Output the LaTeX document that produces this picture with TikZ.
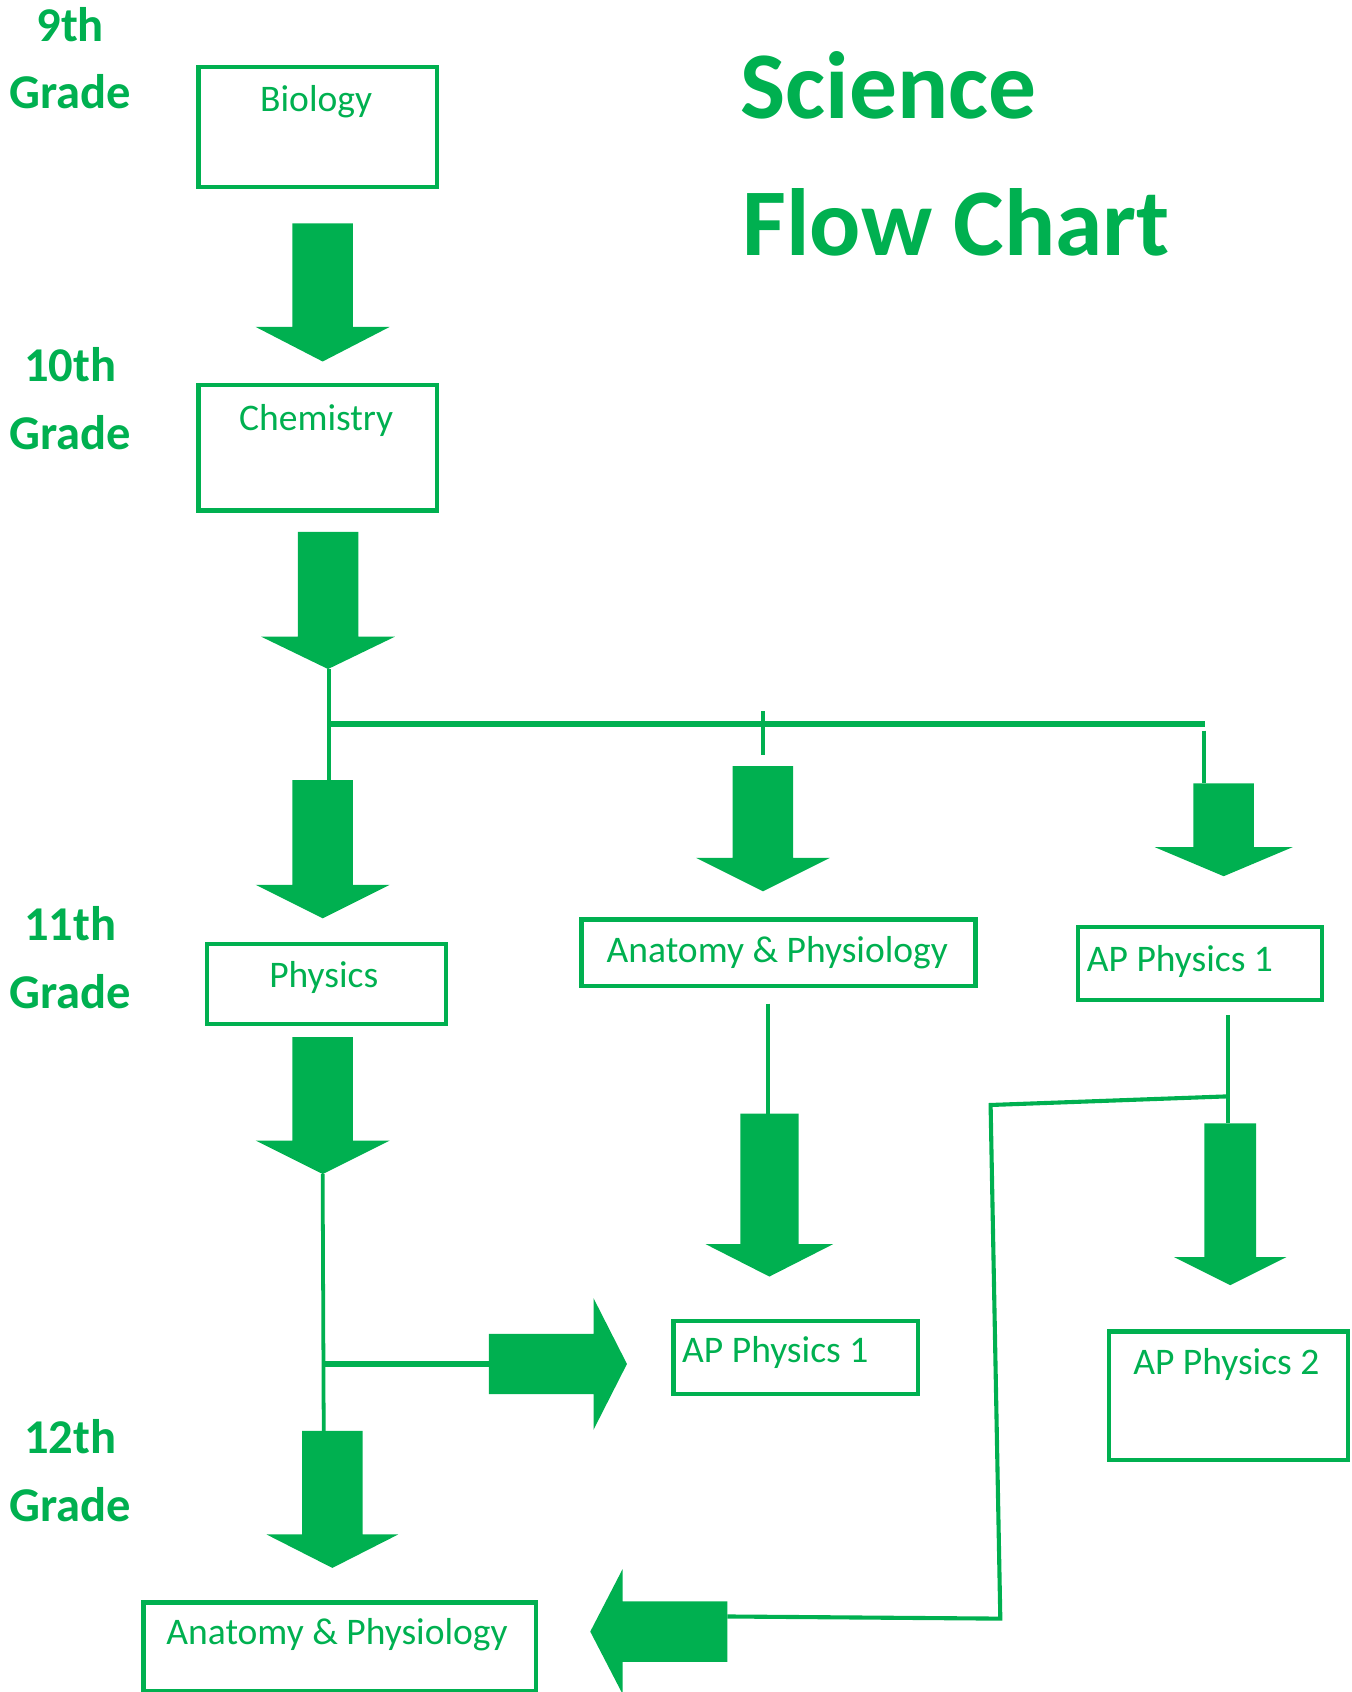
\documentclass[tikz,border=0pt]{standalone}
\usepackage{fontspec}
\setmainfont{Carlito}
\definecolor{grn}{HTML}{00B050}
\tikzset{
  box/.style={draw=grn, line width=4pt, rectangle, inner sep=0pt, anchor=north west},
  txt/.style={text=grn, font=\fontsize{34.8}{40}\selectfont, inner sep=0pt},
  grade/.style={text=grn, font=\bfseries\fontsize{45}{50}\selectfont, inner sep=0pt, anchor=base},
  ttl/.style={text=grn, font=\bfseries\fontsize{88.5}{100}\selectfont, inner sep=0pt, anchor=base west},
  conn/.style={draw=grn, line width=3.5pt},
  bar/.style={draw=grn, line width=5pt},
}
% vertical block arrow: x, shaft top, head base, tip, half shaft, half head
\newcommand\blkdn[6]{%
  \fill[grn] ({#1-#5},#2) -- ({#1+#5},#2) -- ({#1+#5},#3) -- ({#1+#6},#3) -- (#1,#4)
    -- ({#1-#6},#3) -- ({#1-#5},#3) -- cycle;}
% horizontal block arrow: y, shaft start, head base, tip, half shaft, half head
\newcommand\blkhz[6]{%
  \fill[grn] (#2,{#1-#5}) -- (#3,{#1-#5}) -- (#3,{#1-#6}) -- (#4,#1) -- (#3,{#1+#6})
    -- (#3,{#1+#5}) -- (#2,{#1+#5}) -- cycle;}
\begin{document}
\begin{tikzpicture}[x=1pt,y=-1pt]
\useasboundingbox (0,0) rectangle (1252,1568);

% title
\node[ttl] (t1) at (686,110) {Science};
\node[ttl] (t2) at (688,237) {Flow Chart};

% grade labels
\node[grade] (g9a)  at (65,38)   {9th};
\node[grade] (g9b)  at (65,101)  {Grade};
\node[grade] (g10a) at (65,354)  {10th};
\node[grade] (g10b) at (65,417)  {Grade};
\node[grade] (g11a) at (65,872)  {11th};
\node[grade] (g11b) at (65,935)  {Grade};
\node[grade] (g12a) at (65,1347) {12th};
\node[grade] (g12b) at (65,1410) {Grade};

% boxes
\node[box, minimum width=221pt, minimum height=111pt] (bio) at (182,60) {};
\node[txt, anchor=base] (bioT) at (293,103) {Biology};
\node[box, minimum width=221pt, minimum height=116pt] (chem) at (182,355) {};
\node[txt, anchor=base] (chemT) at (293,399) {Chemistry};
\node[box, minimum width=221pt, minimum height=74pt] (phys) at (190,873) {};
\node[txt, anchor=base] (physT) at (300,915) {Physics};
\node[box, minimum width=365pt, minimum height=62pt] (anat) at (537,850) {};
\node[txt, anchor=base west] (anatT) at (562,892) {Anatomy \& Physiology};
\node[box, minimum width=226pt, minimum height=68pt] (apa) at (997,857) {};
\node[txt, anchor=base west] (apaT) at (1007,900) {AP Physics 1};
\node[box, minimum width=227pt, minimum height=68pt] (apb) at (622,1222) {};
\node[txt, anchor=base west] (apbT) at (632,1263) {AP Physics 1};
\node[box, minimum width=221pt, minimum height=119pt] (ap2) at (1026,1232) {};
\node[txt, anchor=base west] (ap2T) at (1050,1274) {AP Physics 2};
\node[box, minimum width=364pt, minimum height=82pt] (anat2) at (131,1483) {};
\node[txt, anchor=base west] (anat2T) at (154,1524) {Anatomy \& Physiology};

% block arrows
\blkdn{299}{207}{303}{335}{28}{62}
\blkdn{304}{493}{590}{620}{28}{62}
\blkdn{299}{723}{820}{851}{28}{62}
\blkdn{707}{710}{795}{826}{28}{62}
\blkdn{1134}{726}{785}{812}{28}{64}
\blkdn{299}{961}{1057}{1088}{28}{62}
\blkdn{308}{1326}{1422}{1453}{28}{61}
\blkdn{713}{1032}{1153}{1183}{27}{59}
\blkdn{1140}{1041}{1165}{1191}{24}{52}
\blkhz{1264}{453}{550}{581}{28}{61}
\blkhz{1512}{674}{577}{547}{28}{58}

% junction coordinates
\coordinate (c1) at (305,620);
\coordinate (c2) at (305,671);
\coordinate (c3) at (305,723);
\coordinate (c4) at (1117,671);
\coordinate (m1) at (707,659);
\coordinate (m2) at (707,700);
\coordinate (r1) at (1116,677);
\coordinate (r2) at (1116,726);
\coordinate (p1) at (299,1088);
\coordinate (p2) at (300,1264);
\coordinate (p3) at (300,1326);
\coordinate (p4) at (453,1264);
\coordinate (a1) at (712,930);
\coordinate (a2) at (712,1032);
\coordinate (b1) at (1138,941);
\coordinate (b2) at (1138,1041);
\coordinate (b3) at (1138,1016);
\coordinate (b4) at (918,1024);
\coordinate (b5) at (927,1500);
\coordinate (b6) at (674,1498);

% thin connectors
\draw[conn] (c1) -- (c3);
\draw[bar] (c2) -- (c4);
\draw[conn] (m1) -- (m2);
\draw[conn] (r1) -- (r2);
\draw[conn] (p1) -- (p3);
\draw[bar] (p2) -- (p4);
\draw[conn] (a1) -- (a2);
\draw[conn] (b1) -- (b2);
\draw[conn, line width=3.8pt] (b3) -- (b4) -- (b5) -- (b6);
\end{tikzpicture}
\end{document}
